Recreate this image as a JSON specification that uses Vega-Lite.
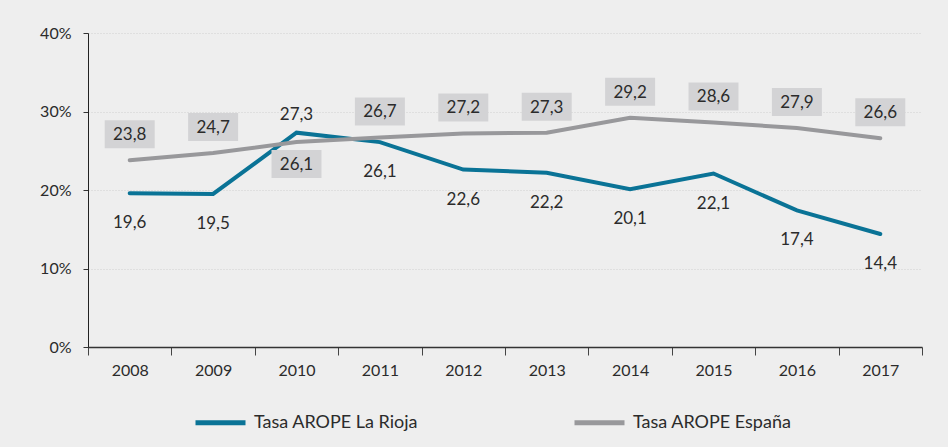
{
  "$schema": "https://vega.github.io/schema/vega-lite/v6.json",
  "width": 834,
  "height": 314,
  "autosize": {"type": "none"},
  "padding": {"left": 88, "top": 33, "right": 26, "bottom": 100},
  "background": "#eeeeee",
  "config": {
    "locale": {"number": {"decimal": ",", "thousands": ".", "grouping": [3], "currency": ["", " €"]}},
    "view": {"stroke": null},
    "font": "Lato",
    "text": {"font": "Lato", "fontSize": 17, "color": "#2b2b2b"}
  },
  "data": {
    "values": [
      {"anio": "2008", "serie": "Tasa AROPE La Rioja", "valor": 19.6},
      {"anio": "2009", "serie": "Tasa AROPE La Rioja", "valor": 19.5},
      {"anio": "2010", "serie": "Tasa AROPE La Rioja", "valor": 27.3},
      {"anio": "2011", "serie": "Tasa AROPE La Rioja", "valor": 26.1},
      {"anio": "2012", "serie": "Tasa AROPE La Rioja", "valor": 22.6},
      {"anio": "2013", "serie": "Tasa AROPE La Rioja", "valor": 22.2},
      {"anio": "2014", "serie": "Tasa AROPE La Rioja", "valor": 20.1},
      {"anio": "2015", "serie": "Tasa AROPE La Rioja", "valor": 22.1},
      {"anio": "2016", "serie": "Tasa AROPE La Rioja", "valor": 17.4},
      {"anio": "2017", "serie": "Tasa AROPE La Rioja", "valor": 14.4},
      {"anio": "2008", "serie": "Tasa AROPE España", "valor": 23.8},
      {"anio": "2009", "serie": "Tasa AROPE España", "valor": 24.7},
      {"anio": "2010", "serie": "Tasa AROPE España", "valor": 26.1},
      {"anio": "2011", "serie": "Tasa AROPE España", "valor": 26.7},
      {"anio": "2012", "serie": "Tasa AROPE España", "valor": 27.2},
      {"anio": "2013", "serie": "Tasa AROPE España", "valor": 27.3},
      {"anio": "2014", "serie": "Tasa AROPE España", "valor": 29.2},
      {"anio": "2015", "serie": "Tasa AROPE España", "valor": 28.6},
      {"anio": "2016", "serie": "Tasa AROPE España", "valor": 27.9},
      {"anio": "2017", "serie": "Tasa AROPE España", "valor": 26.6}
    ]
  },
  "encoding": {
    "x": {
      "field": "anio", "type": "ordinal", "title": null,
      "scale": {"paddingInner": 0, "paddingOuter": 0},
      "axis": {
        "labelAngle": 0, "labelFont": "Lato", "labelFontSize": 16, "labelColor": "#2b2b2b",
        "labelPadding": 7, "tickBand": "extent", "tickSize": 8, "tickColor": "#444",
        "domainColor": "#333", "domainWidth": 1.5, "grid": false
      }
    },
    "y": {
      "field": "valor", "type": "quantitative", "title": null,
      "scale": {"domain": [0, 40]},
      "axis": {
        "values": [0, 10, 20, 30, 40], "labelExpr": "datum.value + '%'",
        "labelFont": "Lato", "labelFontSize": 16, "labelColor": "#2b2b2b", "labelPadding": 12,
        "tickSize": 5, "tickColor": "#333", "domainColor": "#222",
        "grid": true, "gridColor": "#d0d0d0", "gridDash": [1, 2]
      }
    }
  },
  "layer": [
    {
      "mark": {"type": "line", "strokeWidth": 4, "strokeCap": "round", "strokeJoin": "miter"},
      "encoding": {
        "color": {
          "field": "serie", "type": "nominal", "title": null,
          "scale": {"domain": ["Tasa AROPE La Rioja", "Tasa AROPE España"], "range": ["#0a7396", "#98989b"]},
          "legend": {
            "orient": "none", "legendX": 105, "legendY": 362, "direction": "horizontal",
            "symbolType": "stroke", "symbolSize": 2500, "symbolStrokeWidth": 5,
            "labelFont": "Lato", "labelFontSize": 18, "labelColor": "#2b2b2b", "labelOffset": 6,
            "columnPadding": 145, "labelLimit": 300
          }
        },
        "order": {"field": "serie", "sort": "descending"}
      }
    },
    {
      "transform": [{"filter": "datum.serie == 'Tasa AROPE La Rioja' && datum.anio != '2010'"}],
      "mark": {"type": "text", "dy": 30, "baseline": "middle"},
      "encoding": {"text": {"field": "valor", "type": "quantitative", "format": ".1f"}}
    },
    {
      "transform": [{"filter": "datum.serie == 'Tasa AROPE La Rioja' && datum.anio == '2010'"}],
      "mark": {"type": "text", "dy": -18, "baseline": "middle"},
      "encoding": {"text": {"field": "valor", "type": "quantitative", "format": ".1f"}}
    },
    {
      "transform": [{"filter": "datum.serie == 'Tasa AROPE España' && datum.anio != '2010'"}],
      "mark": {"type": "point", "filled": true, "opacity": 1, "color": "#d3d3d5", "strokeWidth": 0,
               "shape": "M-1,-0.56L1,-0.56L1,0.56L-1,0.56Z", "size": 2500, "yOffset": -26}
    },
    {
      "transform": [{"filter": "datum.serie == 'Tasa AROPE España' && datum.anio == '2010'"}],
      "mark": {"type": "point", "filled": true, "opacity": 1, "color": "#d3d3d5", "strokeWidth": 0,
               "shape": "M-1,-0.56L1,-0.56L1,0.56L-1,0.56Z", "size": 2500, "yOffset": 22}
    },
    {
      "transform": [{"filter": "datum.serie == 'Tasa AROPE España' && datum.anio != '2010'"}],
      "mark": {"type": "text", "dy": -25, "baseline": "middle"},
      "encoding": {"text": {"field": "valor", "type": "quantitative", "format": ".1f"}}
    },
    {
      "transform": [{"filter": "datum.serie == 'Tasa AROPE España' && datum.anio == '2010'"}],
      "mark": {"type": "text", "dy": 23, "baseline": "middle"},
      "encoding": {"text": {"field": "valor", "type": "quantitative", "format": ".1f"}}
    }
  ]
}
